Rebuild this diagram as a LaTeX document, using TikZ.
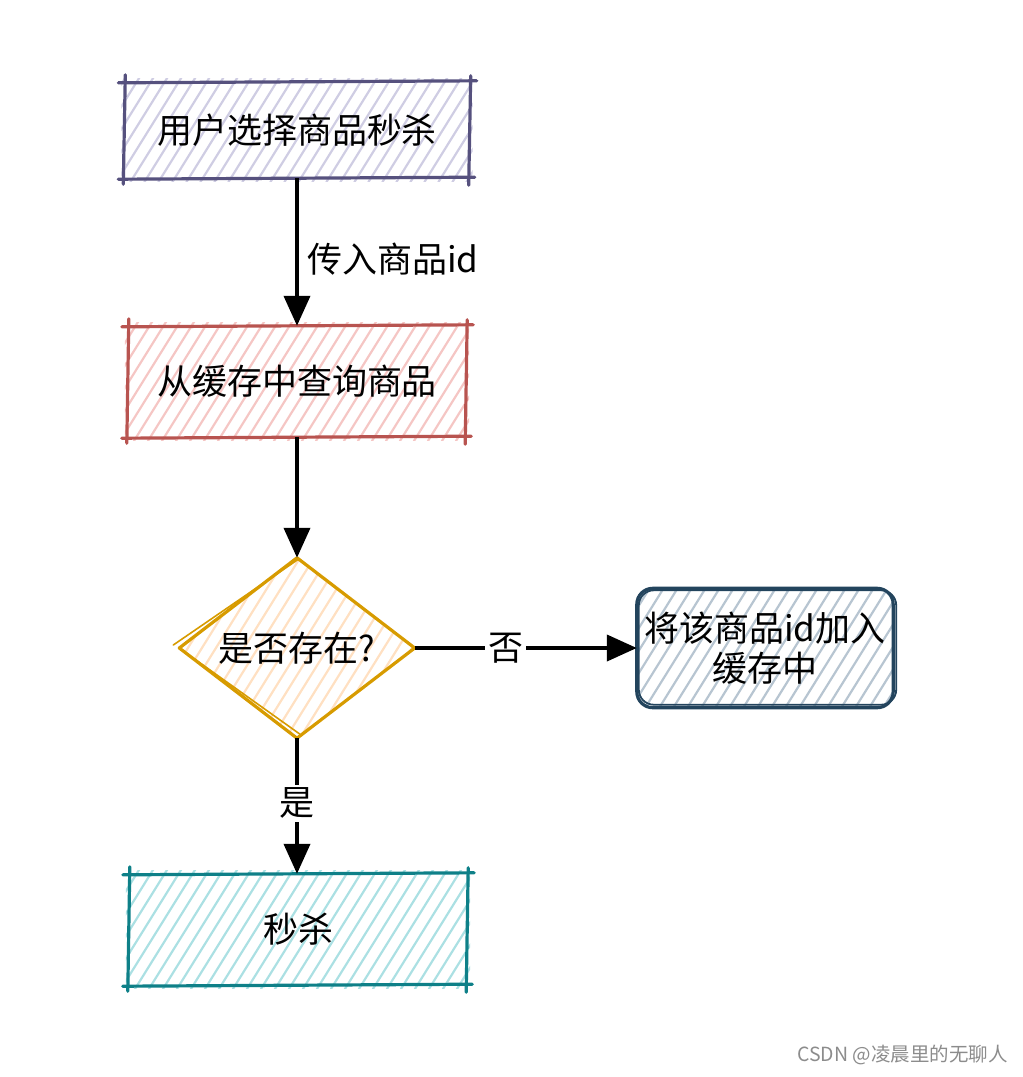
\documentclass[tikz,border=0pt]{standalone}
\usepackage{fontspec}
\setmainfont{Noto Sans CJK SC}
\usetikzlibrary{arrows.meta,calc}
\pgfdeclarelayer{bg}
\pgfsetlayers{bg,main}
\definecolor{purpS}{HTML}{56517E}\definecolor{purpF}{HTML}{CFCDE3}
\definecolor{redS}{HTML}{B85450}\definecolor{redF}{HTML}{F5C6C4}
\definecolor{orgS}{HTML}{D79B00}\definecolor{orgF}{HTML}{FFE0C2}
\definecolor{bluS}{HTML}{23445D}\definecolor{bluF}{HTML}{B7C5D1}
\definecolor{tealS}{HTML}{0E8088}\definecolor{tealF}{HTML}{ABE0E3}
\newcommand\hatchlines[2]{%
  \foreach \k in {-330,-316,...,360}{\draw[#2,line width=2.2pt] ($(#1.south west)+(\k,4)$) -- ++(280,-450);}}
\newcommand\hatchrect[2]{%
  \begin{pgfonlayer}{bg}\begin{scope}
    \clip ($(#1.south west)+(-3,3)$) rectangle ($(#1.north east)+(3,-3)$);
    \hatchlines{#1}{#2}
  \end{scope}\end{pgfonlayer}}
\newcommand\hatchround[2]{%
  \begin{pgfonlayer}{bg}\begin{scope}
    \clip[rounded corners=16pt] (#1.south west) rectangle (#1.north east);
    \hatchlines{#1}{#2}
  \end{scope}\end{pgfonlayer}}
\newcommand\hatchdiamond[2]{%
  \begin{pgfonlayer}{bg}\begin{scope}
    \clip (#1.north) -- (#1.east) -- (#1.south) -- (#1.west) -- cycle;
    \hatchlines{#1}{#2}
  \end{scope}\end{pgfonlayer}}
\newcommand\sketchrect[2]{%
  \draw[#2,sk] ($(#1.north west)+(-6,1)$) -- ($(#1.north east)+(7,-1)$);
  \draw[#2,sk] ($(#1.north east)+(1,-6)$) -- ($(#1.south east)+(-1,7)$);
  \draw[#2,sk] ($(#1.south east)+(5,-1)$) -- ($(#1.south west)+(-6,1)$);
  \draw[#2,sk] ($(#1.south west)+(-1,6)$) -- ($(#1.north west)+(1,-7)$);}
\begin{document}
\begin{tikzpicture}[x=1pt,y=-1pt,
  txt/.style={font=\fontsize{35}{40}\selectfont,text=black,inner sep=0pt},
  conn/.style={line width=4pt,-{Triangle[length=30pt,width=26pt]}},
  lbl/.style={font=\fontsize{35}{40}\selectfont,fill=white,inner sep=3pt},
  sk/.style={line width=3.2pt,line cap=round}]
\useasboundingbox (0,0) rectangle (1023,1077);
\node[txt,minimum width=345pt,minimum height=96pt] (n1) at (297,130) {用户选择商品秒杀};
\node[txt,minimum width=338pt,minimum height=111pt] (n2) at (297,381.5) {从缓存中查询商品};
\node[txt,minimum width=235pt,minimum height=180pt] (d) at (297,648) {是否存在?};
\node[txt,minimum width=256pt,minimum height=119pt,align=center] (n4) at (765,648) {将该商品id加入\\缓存中};
\node[txt,minimum width=338pt,minimum height=111pt] (n5) at (298,929.5) {秒杀};
\hatchrect{n1}{purpF}
\hatchrect{n2}{redF}
\hatchdiamond{d}{orgF}
\hatchround{n4}{bluF}
\hatchrect{n5}{tealF}
\sketchrect{n1}{purpS}
\sketchrect{n2}{redS}
\sketchrect{n5}{tealS}
\draw[bluS,sk,rounded corners=16pt] (n4.south west) rectangle (n4.north east);
\draw[bluS,line width=1.8pt,rounded corners=15pt] ($(n4.south west)+(2,-3)$) rectangle ($(n4.north east)+(3,2)$);
\draw[orgS,sk,line join=round] (d.north) -- (d.east) -- (d.south) -- (d.west) -- cycle;
\draw[orgS,line width=1.6pt,line cap=round] ($(d.west)+(-6,-3)$) -- ($(d.north)+(2,1)$);
\draw[orgS,line width=1.6pt,line cap=round] ($(d.west)+(4,3)$) -- ($(d.south)+(3,-4)$);
\draw[conn] (n1.south) -- (n2.north) node[pos=0.55,anchor=west,xshift=8pt,font=\fontsize{35}{40}\selectfont,inner sep=0pt] (l1) {传入商品id};
\draw[conn] (n2.south) -- (d.north);
\draw[conn] (d.east) -- (n4.west) node[pos=0.41,lbl] (l2) {否};
\draw[conn] (d.south) -- (d.south |- n5.north) node[pos=0.48,lbl] (l3) {是};
\node[anchor=east,text=black!45,font=\fontsize{19.5}{22}\selectfont,inner sep=0pt] (wm) at (1008,1055) {CSDN @凌晨里的无聊人};
\end{tikzpicture}
\end{document}
